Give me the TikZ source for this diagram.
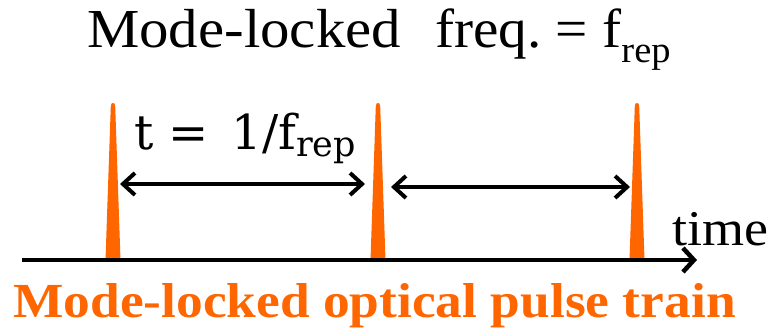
\documentclass[tikz,border=0pt]{standalone}
\usepackage{fontspec}
\setmainfont{Liberation Serif}
\newfontfamily\labelfont{DejaVu Serif}
\usetikzlibrary{arrows.meta}
\definecolor{pulseorange}{HTML}{FF6600}
\tikzstyle{pulse}=[fill=pulseorange,draw=none]
\tikzstyle{timeaxis}=[-{Straight Barb[length=11pt,width=24pt]},line width=4.5pt]
\tikzstyle{period}=[{Straight Barb[length=12pt,width=22pt]}-{Straight Barb[length=12pt,width=22pt]},line width=4pt]
\tikzstyle{txt}=[anchor=base west,inner sep=0]

\begin{document}
\begin{tikzpicture}[x=1pt,y=-1pt]
  \useasboundingbox (0,0) rectangle (781,331);
  % title line
  \node[txt,font=\fontsize{55}{60}\selectfont] (title) at (87,48) {\scalebox{1.07}[1]{Mode-locked}};
  \node[txt,font=\fontsize{55}{60}\selectfont] (freq) at (435,48) {\scalebox{1.04}[1]{freq.\ = f\raisebox{-15pt}{\fontsize{37}{40}\selectfont rep}}};
  % pulses
  \foreach \x [count=\i] in {113,378,637} {
    \fill[pulse] (\x-7.5,260) -- (\x-2.2,106) .. controls (\x-2.2,102) and (\x+2.2,102) .. (\x+2.2,106) -- (\x+7.5,260) -- cycle;
    \coordinate (p\i) at (\x,185);
  }
  \coordinate (a1) at (120,184);
  \coordinate (b1) at (365,184);
  \coordinate (a2) at (391,187);
  \coordinate (b2) at (630,187);
  \draw[period] (a1) -- (b1);
  \draw[period] (a2) -- (b2);
  \node[txt,font=\labelfont\fontsize{48}{50}\selectfont] (tlabel) at (134,150) {t\hspace{15pt}=\hspace{23pt}1/f\raisebox{-7pt}{\fontsize{35}{38}\selectfont rep}};
  % time axis
  \coordinate (t0) at (22,260);
  \coordinate (t1) at (697,260);
  \draw[timeaxis] (t0) -- (t1);
  \node[txt,font=\fontsize{50}{56}\selectfont] (time) at (672,245) {\scalebox{1.08}[1]{time}};
  \node[txt,text=pulseorange,font=\fontsize{49}{52}\selectfont\bfseries] (train) at (13,317) {\scalebox{1.09}[1]{Mode-locked optical pulse train}};
\end{tikzpicture}
\end{document}
